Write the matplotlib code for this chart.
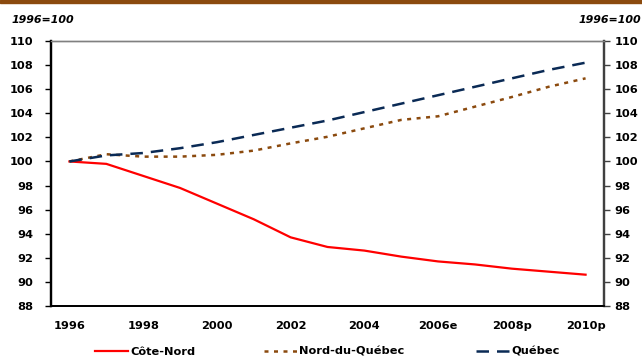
import matplotlib
matplotlib.use('Agg')
import matplotlib.pyplot as plt
from matplotlib.lines import Line2D
from matplotlib.patches import Rectangle

plt.rcParams['font.family'] = ['DejaVu Sans']

# ── données (1996=100) ──
years = list(range(1996, 2011))
tick_years = [1996, 1998, 2000, 2002, 2004, 2006, 2008, 2010]
tick_labels = ['1996', '1998', '2000', '2002', '2004', '2006e', '2008p', '2010p']

cote_nord = [100.0, 99.8, 98.8, 97.8, 96.5, 95.2, 93.7, 92.9, 92.6, 92.1,
             91.7, 91.45, 91.1, 90.85, 90.6]
nord_du_quebec = [100.0, 100.6, 100.4, 100.4, 100.55, 100.9, 101.5, 102.05, 102.75, 103.45,
                  103.75, 104.55, 105.35, 106.2, 106.9]
quebec = [100.0, 100.5, 100.7, 101.1, 101.6, 102.2, 102.8, 103.4, 104.1, 104.8,
          105.5, 106.2, 106.9, 107.6, 108.2]

red = '#FF0000'
brown = '#8B4A0E'
navy = '#0A2A55'
fs = 8.2

fig = plt.figure(figsize=(6.42, 3.58), dpi=100)
ax = fig.add_axes([51 / 642, 1 - 306 / 358, 553 / 642, 265 / 358])

ax.plot(years, cote_nord, '-', color=red, lw=1.6)
ax.plot(years, nord_du_quebec, color=brown, lw=1.8, dashes=(1.6, 2.2))
ax.plot(years, quebec, color=navy, lw=1.8, dashes=(5, 3.2))

ax.set_xlim(1995.5, 2010.5)
ax.set_ylim(88, 110)
ax.set_yticks(range(88, 111, 2))
ax.set_xticks(tick_years)
ax.set_xticklabels(tick_labels)

for lbl in ax.get_xticklabels() + ax.get_yticklabels():
    lbl.set_fontweight('bold')
    lbl.set_fontsize(fs)
ax.tick_params(axis='x', length=0, pad=11)
ax.tick_params(axis='y', length=4, width=1, pad=9, direction='out', color='#000000')

ax2 = ax.twinx()
ax2.set_ylim(88, 110)
ax2.set_yticks(range(88, 111, 2))
ax2.tick_params(axis='y', length=4, width=1, pad=3.5, direction='out', color='#404040')
for lbl in ax2.get_yticklabels():
    lbl.set_fontweight('bold')
    lbl.set_fontsize(fs)

for a in (ax, ax2):
    a.spines['left'].set_color('black')
    a.spines['left'].set_linewidth(1.6)
    a.spines['bottom'].set_color('black')
    a.spines['bottom'].set_linewidth(1.3)
    a.spines['top'].set_color('#808080')
    a.spines['top'].set_linewidth(1.0)
    a.spines['right'].set_color('#404040')
    a.spines['right'].set_linewidth(1.6)

# unités
fig.text(12 / 642, 1 - 20 / 358, '1996=100', fontsize=7.9, fontweight='bold',
         fontstyle='italic', va='center', ha='left')
fig.text(641 / 642, 1 - 20 / 358, '1996=100', fontsize=7.9, fontweight='bold',
         fontstyle='italic', va='center', ha='right')

# bande supérieure
fig.patches.append(Rectangle((0, 1 - 2.5 / 358), 1, 2.5 / 358, transform=fig.transFigure,
                             color=brown, zorder=5))

# légende
entries = [
    (95, Line2D([], [], color=red, lw=1.6), 'Côte-Nord'),
    (264, Line2D([], [], color=brown, lw=1.8, dashes=(1.6, 2.2)), 'Nord-du-Québec'),
    (476, Line2D([], [], color=navy, lw=1.8, dashes=(5, 3.2)), 'Québec'),
]
for x0, h, txt in entries:
    leg = fig.legend([h], [txt], loc='center left', bbox_to_anchor=(x0 / 642, 1 - 352 / 358),
                     frameon=False, handlelength=2.9, handletextpad=0.2, borderpad=0,
                     borderaxespad=0, prop={'weight': 'bold', 'size': fs})

fig.savefig('out.png', dpi=100, facecolor='white')
